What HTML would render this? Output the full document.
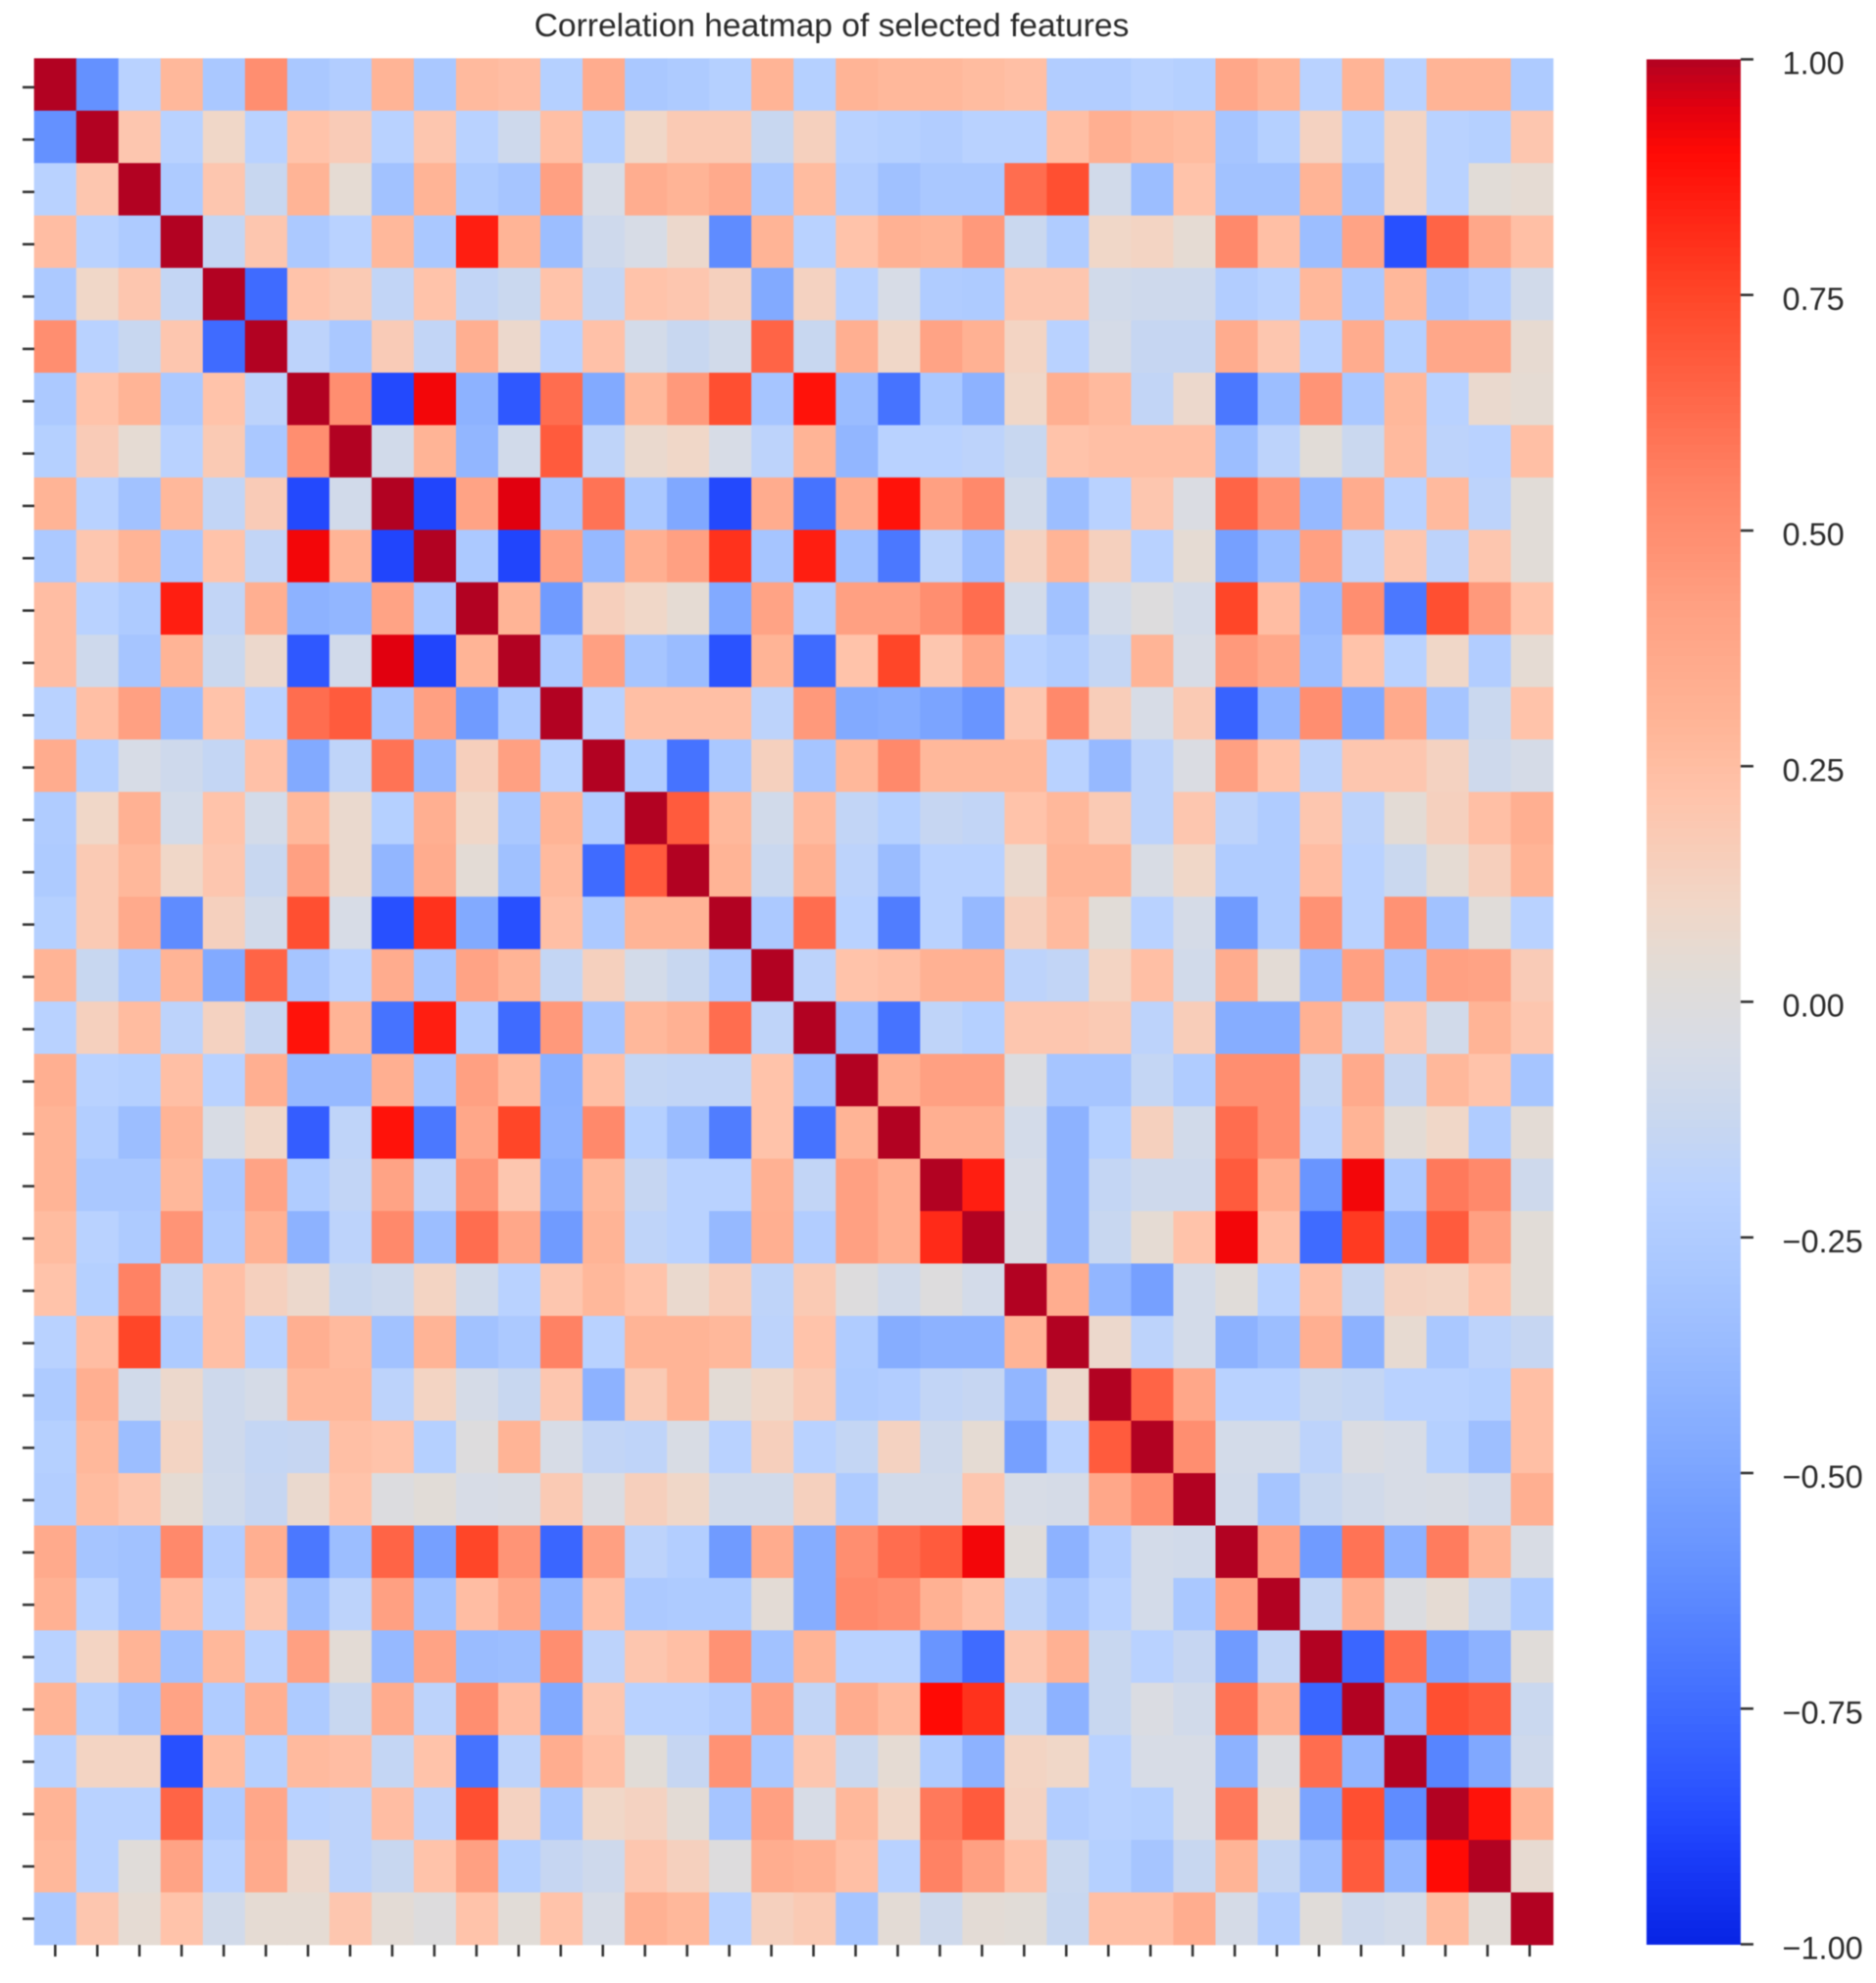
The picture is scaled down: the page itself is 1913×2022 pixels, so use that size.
<!DOCTYPE html>
<html lang="en">
<head>
<meta charset="utf-8">
<title>Correlation heatmap of selected features</title>
<style>
html,body{margin:0;padding:0;background:#fff;}
svg{display:block;filter:blur(0.6px);}
text{font-family:"Liberation Sans",Arial,sans-serif;fill:#2a2a2a;}
</style>
</head>
<body>
<svg id="chart" xmlns="http://www.w3.org/2000/svg" width="1913" height="2022" viewBox="0 0 1913 2022">
<rect x="0" y="0" width="1913" height="2022" fill="#ffffff"/>
<text x="848" y="37" font-size="33.6" text-anchor="middle">Correlation heatmap of selected features</text>
<g id="cells"></g>
<g id="xticks"></g>
<g id="yticks"></g>
<g id="colorbar"></g>
<g id="cbticks"></g>
</svg>
<script>
const corrValues = [
[1,-.6,-.2,.28,-.28,.5,-.28,-.24,.3,-.28,.27,.25,-.22,.35,-.28,-.26,-.22,.3,-.22,.3,.28,.28,.26,.24,-.24,-.24,-.2,-.22,.38,.3,-.2,.3,-.2,.3,.3,-.26],
[-.6,1,.2,-.2,.1,-.2,.22,.17,-.2,.2,-.2,-.1,.24,-.22,.1,.18,.18,-.13,.14,-.2,-.22,-.24,-.2,-.2,.24,.33,.28,.26,-.3,-.22,.13,-.22,.12,-.2,-.22,.2],
[-.2,.2,1,-.26,.2,-.13,.3,.05,-.32,.3,-.26,-.3,.42,-.05,.34,.3,.36,-.28,.26,-.24,-.33,-.28,-.28,.62,.72,-.08,-.35,.22,-.32,-.32,.3,-.32,.12,-.2,.03,.05],
[.25,-.2,-.26,1,-.15,.2,-.27,-.2,.28,-.28,.85,.3,-.35,-.1,-.05,.08,-.62,.3,-.2,.22,.32,.3,.45,-.12,-.25,.1,.12,.05,.52,.24,-.35,.4,-.85,.65,.38,.24],
[-.27,.1,.2,-.15,1,-.75,.22,.18,-.16,.22,-.16,-.12,.22,-.15,.22,.2,.14,-.47,.13,-.2,-.05,-.25,-.26,.2,.2,-.08,-.1,-.1,-.24,-.2,.28,-.27,.28,-.3,-.24,-.08],
[.5,-.2,-.13,.2,-.75,1,-.18,-.28,.17,-.16,.33,.08,-.2,.23,-.07,-.13,-.08,.65,-.13,.33,.1,.4,.32,.12,-.2,-.06,-.14,-.14,.35,.2,-.2,.35,-.22,.38,.38,.06],
[-.27,.22,.3,-.27,.22,-.18,1,.5,-.87,.92,-.42,-.82,.62,-.47,.28,.45,.72,-.3,.88,-.36,-.72,-.28,-.42,.1,.33,.27,-.16,.08,-.7,-.35,.47,-.28,.28,-.2,.07,.05],
[-.22,.17,.05,-.2,.18,-.28,.5,1,-.08,.3,-.4,-.08,.68,-.17,.07,.1,-.05,-.18,.3,-.4,-.2,-.2,-.18,-.13,.22,.24,.24,.24,-.35,-.18,.03,-.12,.27,-.18,-.2,.24],
[.3,-.2,-.32,.28,-.16,.17,-.87,-.08,1,-.88,.4,.95,-.3,.6,-.28,-.48,-.87,.35,-.72,.35,.88,.42,.52,-.08,-.35,-.2,.2,-.03,.65,.47,-.38,.35,-.2,.27,-.18,.03],
[-.27,.2,.3,-.28,.22,-.16,.92,.3,-.88,1,-.27,-.88,.42,-.38,.33,.42,.8,-.3,.85,-.33,-.7,-.18,-.35,.13,.3,.14,-.2,.05,-.52,-.35,.42,-.18,.2,-.18,.2,.03],
[.25,-.2,-.26,.85,-.16,.33,-.42,-.4,.4,-.27,1,.3,-.55,.15,.1,.05,-.47,.4,-.25,.42,.42,.5,.62,-.07,-.32,-.07,0,-.07,.75,.25,-.38,.5,-.7,.72,.45,.22],
[.25,-.1,-.3,.3,-.12,.08,-.82,-.08,.95,-.88,.3,1,-.27,.42,-.3,-.36,-.84,.3,-.75,.22,.75,.2,.38,-.2,-.25,-.15,.3,-.05,.45,.38,-.35,.22,-.2,.1,-.24,.05],
[-.2,.24,.42,-.35,.22,-.2,.62,.68,-.3,.42,-.55,-.27,1,-.2,.24,.24,.24,-.18,.45,-.47,-.45,-.5,-.58,.2,.52,.16,-.05,.18,-.78,-.4,.5,-.47,.36,-.3,-.12,.22],
[.35,-.22,-.05,-.1,-.15,.23,-.47,-.17,.6,-.38,.15,.42,-.2,1,-.25,-.72,-.28,.14,-.3,.28,.52,.28,.28,.28,-.2,-.38,-.18,-.03,.42,.22,-.18,.2,.2,.13,-.1,-.06],
[-.25,.1,.32,-.07,.22,-.07,.28,.07,-.22,.33,.1,-.28,.3,-.25,1,.68,.28,-.08,.27,-.16,-.22,-.14,-.16,.22,.28,.18,-.18,.2,-.18,-.25,.2,-.18,.04,.14,.24,.33],
[-.26,.18,.28,.1,.2,-.13,.42,.07,-.4,.35,.04,-.33,.27,-.75,.68,1,.3,-.12,.32,-.18,-.36,-.2,-.2,.07,.3,.3,-.04,.1,-.25,-.25,.25,-.2,-.12,.05,.15,.3],
[-.22,.18,.36,-.62,.14,-.08,.72,-.05,-.85,.8,-.47,-.85,.24,-.27,.3,.3,1,-.27,.62,-.2,-.68,-.2,-.38,.15,.27,.03,-.2,-.06,-.55,-.25,.48,-.2,.48,-.32,.02,-.2],
[.3,-.13,-.28,.3,-.47,.65,-.3,-.2,.35,-.3,.4,.3,-.15,.14,-.07,-.13,-.27,1,-.18,.22,.24,.32,.32,-.18,-.16,.12,.24,-.08,.35,.04,-.36,.42,-.3,.42,.4,.17],
[-.2,.14,.26,-.18,.13,-.14,.88,.3,-.72,.85,-.25,-.75,.45,-.3,.28,.32,.62,-.17,1,-.35,-.72,-.17,-.22,.2,.2,.18,-.18,.16,-.45,-.45,.32,-.16,.2,-.08,.3,.2],
[.33,-.2,-.22,.24,-.2,.33,-.38,-.38,.33,-.3,.42,.27,-.43,.24,-.15,-.16,-.16,.22,-.35,1,.33,.42,.42,-.01,-.3,-.3,-.15,-.25,.5,.5,-.15,.36,-.14,.28,.22,-.3],
[.3,-.23,-.35,.3,-.04,.1,-.8,-.17,.88,-.7,.38,.75,-.42,.52,-.22,-.36,-.68,.22,-.72,.3,1,.33,.33,-.07,-.42,-.22,.14,-.08,.62,.5,-.18,.3,.04,.1,-.25,.04],
[.3,-.28,-.28,.28,-.28,.4,-.25,-.16,.4,-.17,.47,.2,-.45,.28,-.14,-.2,-.2,.32,-.16,.42,.33,1,.85,-.05,-.42,-.15,-.1,-.1,.68,.33,-.58,.92,-.27,.58,.52,-.1],
[.26,-.2,-.26,.47,-.26,.32,-.42,-.18,.52,-.35,.62,.38,-.55,.3,-.17,-.2,-.38,.33,-.24,.42,.33,.82,1,-.04,-.42,-.13,.05,.22,.92,.24,-.75,.78,-.42,.68,.42,.03],
[.22,-.22,.55,-.15,.24,.14,.08,-.13,-.1,.12,-.08,-.2,.2,.28,.22,.07,.16,-.17,.18,0,-.08,0,-.07,1,.34,-.4,-.52,-.07,.02,-.2,.24,-.14,.13,.12,.22,.03],
[-.2,.25,.75,-.26,.24,-.2,.33,.27,-.32,.3,-.32,-.27,.55,-.2,.3,.3,.28,-.18,.22,-.25,-.45,-.42,-.42,.3,1,.08,-.18,-.07,-.42,-.35,.33,-.42,.06,-.28,-.18,-.14],
[-.26,.33,-.08,.08,-.1,-.06,.28,.28,-.18,.12,-.06,-.13,.2,-.42,.18,.3,.04,.1,.18,-.26,-.24,-.16,-.14,-.4,.08,1,.65,.38,-.2,-.2,-.13,-.15,-.2,-.2,-.22,.24],
[-.22,.28,-.35,.12,-.1,-.15,-.14,.24,.22,-.22,0,.3,-.05,-.16,-.17,-.04,-.2,.15,-.2,-.15,.13,-.1,.05,-.52,-.2,.68,1,.5,-.07,-.07,-.18,-.03,-.05,-.22,-.34,.24],
[-.23,.26,.2,.05,-.09,-.14,.07,.22,-.01,.03,-.05,-.04,.18,-.03,.15,.1,-.08,-.08,.14,-.26,-.08,-.08,.2,-.05,-.06,.38,.5,1,-.08,-.3,-.13,-.08,-.05,-.04,-.08,.33],
[.36,-.3,-.32,.52,-.24,.33,-.7,-.35,.65,-.52,.75,.47,-.77,.42,-.18,-.23,-.55,.35,-.45,.5,.62,.68,.92,.02,-.42,-.24,-.07,-.08,1,.42,-.55,.6,-.42,.57,.3,-.04],
[.32,-.2,-.32,.25,-.2,.2,-.35,-.18,.42,-.32,.25,.38,-.4,.24,-.27,-.26,-.26,.04,-.45,.52,.5,.32,.24,-.17,-.3,-.2,-.07,-.28,.42,1,-.15,.33,-.02,.05,-.12,-.26],
[-.2,.12,.3,-.33,.28,-.2,.42,.04,-.38,.4,-.36,-.35,.5,-.18,.2,.24,.48,-.32,.3,-.2,-.2,-.58,-.75,.2,.32,-.13,-.2,-.14,-.55,-.16,1,-.77,.62,-.5,-.42,.02],
[.3,-.22,-.32,.4,-.25,.33,-.26,-.13,.35,-.18,.5,.25,-.47,.2,-.2,-.2,-.24,.42,-.16,.35,.27,.9,.8,-.15,-.42,-.13,-.03,-.08,.6,.33,-.77,1,-.4,.72,.68,-.12],
[-.2,.12,.12,-.85,.26,-.22,.27,.25,-.15,.22,-.72,-.18,.34,.24,.03,-.14,.48,-.28,.2,-.12,.05,-.26,-.42,.12,.1,-.2,-.05,-.05,-.42,-.02,.62,-.4,1,-.65,-.48,-.1],
[.3,-.2,-.2,.65,-.26,.38,-.2,-.18,.25,-.18,.72,.13,-.28,.1,.13,.04,-.3,.42,-.05,.28,.1,.58,.68,.13,-.24,-.2,-.22,-.05,.58,.06,-.5,.72,-.62,1,.88,.3],
[.28,-.2,.02,.4,-.2,.36,.08,-.18,-.13,.22,.42,-.22,-.14,-.1,.2,.14,0,.34,.32,.24,-.2,.55,.42,.24,-.12,-.22,-.3,-.13,.3,-.15,-.34,.68,-.4,.9,1,.06],
[-.27,.2,.05,.22,-.08,.05,.05,.2,.04,0,.22,.03,.22,-.05,.32,.28,-.2,.14,.18,-.3,.04,-.1,.04,.03,-.13,.24,.24,.34,-.06,-.24,.02,-.1,-.07,.26,.03,1]
];
const colorbarTickValues = [1, 0.75, 0.5, 0.25, 0, -0.25, -0.5, -0.75, -1];
const colorbarTickLabels = ["1.00", "0.75", "0.50", "0.25", "0.00", "\u22120.25", "\u22120.50", "\u22120.75", "\u22121.00"];

const NS = "http://www.w3.org/2000/svg";
const colorStops = [
  [-1, [8, 36, 228]], [-0.9, [28, 62, 250]], [-0.85, [40, 80, 255]], [-0.72, [70, 115, 255]],
  [-0.6, [100, 145, 255]], [-0.47, [130, 170, 255]], [-0.38, [150, 185, 255]], [-0.28, [170, 200, 255]],
  [-0.2, [185, 210, 255]], [-0.13, [200, 215, 240]], [-0.05, [215, 220, 230]], [0.03, [225, 220, 215]],
  [0.1, [240, 215, 200]], [0.22, [255, 195, 170]], [0.3, [255, 180, 150]], [0.42, [255, 160, 130]],
  [0.55, [255, 130, 100]], [0.65, [255, 100, 70]], [0.75, [255, 70, 40]], [0.9, [255, 10, 5]],
  [0.95, [225, 0, 15]], [1, [178, 2, 34]]
];
function colorFor(v) {
  const x = Math.max(-1, Math.min(1, v));
  for (let i = 1; i < colorStops.length; i++) {
    if (x <= colorStops[i][0]) {
      const a = colorStops[i - 1], b = colorStops[i];
      const t = (x - a[0]) / (b[0] - a[0]);
      const c = a[1].map((p, k) => Math.round(p + (b[1][k] - p) * t));
      return "rgb(" + c.join(",") + ")";
    }
  }
  return "rgb(178,2,34)";
}
const heatLeft = 34.7, heatRight = 1583.7, heatTop = 59.4, heatBottom = 1983;
const count = corrValues.length;
const xScale = i => heatLeft + (heatRight - heatLeft) * i / count;
const yScale = i => heatTop + (heatBottom - heatTop) * i / count;
const xTickScale = i => 56.3 + (1559.8 - 56.3) * i / (count - 1);
const yTickScale = i => 89 + (1956.5 - 89) * i / (count - 1);
const cbLeft = 1679, cbRight = 1775;
const cbScale = v => 1021.5 - v * 961;
function mk(tag, attrs, parent) {
  const el = document.createElementNS(NS, tag);
  for (const k in attrs) el.setAttribute(k, attrs[k]);
  parent.appendChild(el);
  return el;
}
const cellsG = document.getElementById("cells");
corrValues.forEach((row, r) => {
  row.forEach((v, c) => {
    const cell = mk("rect", {
      x: xScale(c).toFixed(2), y: yScale(r).toFixed(2),
      width: (xScale(c + 1) - xScale(c) + 0.4).toFixed(2),
      height: (yScale(r + 1) - yScale(r) + 0.4).toFixed(2),
      fill: colorFor(v)
    }, cellsG);
    
    
  });
});
const xG = document.getElementById("xticks");
const yG = document.getElementById("yticks");
for (let i = 0; i < count; i++) {
  const xt = mk("line", { x1: xTickScale(i), x2: xTickScale(i), y1: 1983, y2: 1995, stroke: "#333", "stroke-width": 2.6 }, xG);
  
  
  const yt = mk("line", { x1: 23, x2: 35, y1: yTickScale(i), y2: yTickScale(i), stroke: "#333", "stroke-width": 2.6 }, yG);
  
  
}
const cbG = document.getElementById("colorbar");
const cbSteps = 240;
for (let i = 0; i < cbSteps; i++) {
  const v1 = 1 - 2 * i / cbSteps, v2 = 1 - 2 * (i + 1) / cbSteps;
  const seg = mk("rect", {
    x: cbLeft, y: cbScale(v1).toFixed(2), width: cbRight - cbLeft,
    height: (cbScale(v2) - cbScale(v1) + 0.5).toFixed(2), fill: colorFor((v1 + v2) / 2)
  }, cbG);
  
  
}
const cbT = document.getElementById("cbticks");
colorbarTickValues.forEach((v, i) => {
  const y = cbScale(v);
  const t = mk("line", { x1: cbRight, x2: 1788, y1: y, y2: y, stroke: "#333", "stroke-width": 2.6 }, cbT);
  
  
  const l = mk("text", { x: 1817.5, y: y + 15, "font-size": 32.5 }, cbT);
  l.textContent = colorbarTickLabels[i];
  
  
});
</script>
</body>
</html>
